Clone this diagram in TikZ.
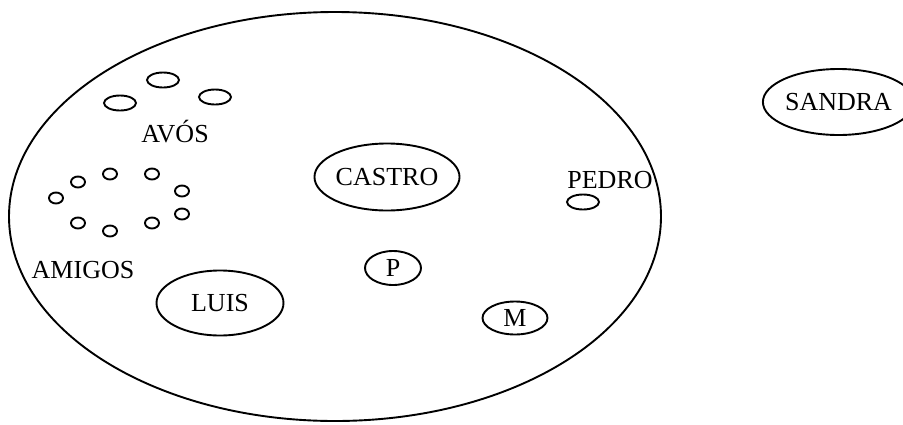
\documentclass[tikz,border=0pt]{standalone}
\usepackage{fontspec}
\setmainfont{Liberation Serif}
\usetikzlibrary{shapes.geometric}
\begin{document}
\begin{tikzpicture}[x=1pt,y=-1pt,
  lw/.style={line width=1.9pt},
  oval/.style={ellipse,draw,lw,inner sep=0pt},
  lbl/.style={inner sep=0pt,font=\fontsize{26}{30}\selectfont},
  dot/.style={oval,minimum width=14pt,minimum height=11pt},
  mid/.style={oval,minimum width=32pt,minimum height=15pt}]
\useasboundingbox (0,0) rectangle (903,424);
\node[oval,minimum width=652pt,minimum height=409pt] (world) at (335,216.5) {};
% AVOS
\node[mid] (a1) at (120,103) {};
\node[mid] (a2) at (163,80) {};
\node[mid] (a3) at (215,97) {};
\node[lbl] (avos) at (175,132) {AVÓS};
% AMIGOS
\node[dot] (m1) at (56,198) {};
\node[dot] (m2) at (78,182) {};
\node[dot] (m3) at (110,174) {};
\node[dot] (m4) at (152,174) {};
\node[dot] (m5) at (182,191) {};
\node[dot] (m6) at (182,214) {};
\node[dot] (m7) at (152,223) {};
\node[dot] (m8) at (110,231) {};
\node[dot] (m9) at (78,223) {};
\node[lbl] (amigos) at (83,270) {AMIGOS};
% named ellipses
\node[oval,lbl,minimum width=127pt,minimum height=65pt] (luis) at (220,303) {LUIS};
\node[oval,lbl,minimum width=127pt,minimum height=67pt] (castro) at (387,177) {CASTRO};
\node[oval,lbl,minimum width=56pt,minimum height=34pt] (p) at (393,268) {P};
\node[oval,lbl,minimum width=65pt,minimum height=33pt] (m) at (515,318) {M};
\node[lbl] (pedro) at (610,180) {PEDRO};
\node[mid] (pedrooval) at (583,202) {};
\node[oval,lbl,minimum width=126pt,minimum height=66pt] (sandra) at (838.5,102) {SANDRA};
\end{tikzpicture}
\end{document}
